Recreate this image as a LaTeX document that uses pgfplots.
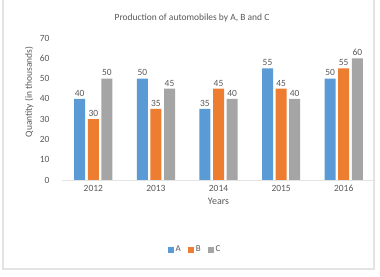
\documentclass[border=0pt]{standalone}
\usepackage{pgfplots}
\pgfplotsset{compat=1.18}
\usepackage{fontspec}
\setmainfont{Carlito}
\definecolor{cA}{HTML}{5B9BD5}
\definecolor{cB}{HTML}{ED7D31}
\definecolor{cC}{HTML}{A5A5A5}
\definecolor{txt}{HTML}{595959}
\definecolor{frame}{HTML}{E3E3E3}
\begin{document}
\begin{tikzpicture}
\path[use as bounding box, fill=white] (0,0) rectangle (380bp,277bp);
\draw[frame, line width=1.2bp] (3bp,280bp) -- (3bp,8bp) -- (374bp,8bp) -- (374bp,280bp);
\node[txt, font=\fontsize{9.5}{11}\selectfont] at (192bp,259bp) {Production of automobiles by A, B and C};
\begin{axis}[
  at={(62bp,97bp)}, anchor=south west,
  scale only axis, width=313bp, height=142bp,
  ybar=2.6bp, bar width=11bp,
  xmin=-0.5, xmax=4.5, ymin=0, ymax=70,
  xtick={0,1,2,3,4}, xticklabels={2012,2013,2014,2015,2016},
  ytick={0,10,20,30,40,50,60,70},
  axis x line*=bottom, axis y line*=left,
  x axis line style={draw=frame, line width=0.8bp},
  y axis line style={draw=none},
  major tick length=0pt,
  ticklabel style={font=\fontsize{9.5}{11}\selectfont, text=txt},
  /pgf/number format/assume math mode=true,
  xticklabel style={yshift=-2bp},
  yticklabel style={xshift=-9bp},
  xlabel={Years}, xlabel style={font=\fontsize{10}{12}\selectfont, text=txt, yshift=1bp},
  ylabel={Quantity (in thousands)},
  ylabel style={font=\fontsize{9.5}{11}\selectfont, text=txt, at={(axis description cs:-0.105,0.62)}, anchor=center},
  nodes near coords,
  every node near coord/.append style={font=\fontsize{9.5}{11}\selectfont, text=txt, yshift=-1bp},
  legend style={at={(0.425,-0.49)}, anchor=center, draw=none, font=\fontsize{9}{10}\selectfont, text=txt, legend columns=3, /tikz/every even column/.append style={column sep=5bp}},
  legend image code/.code={\fill[#1] (0bp,-3bp) rectangle (6bp,3bp);},
  clip=false,
]
\addplot[fill=cA, draw=none] coordinates {(0,40) (1,50) (2,35) (3,55) (4,50)};
\addplot[fill=cB, draw=none] coordinates {(0,30) (1,35) (2,45) (3,45) (4,55)};
\addplot[fill=cC, draw=none] coordinates {(0,50) (1,45) (2,40) (3,40) (4,60)};
\legend{A,B,C}
\end{axis}
\end{tikzpicture}
\end{document}
